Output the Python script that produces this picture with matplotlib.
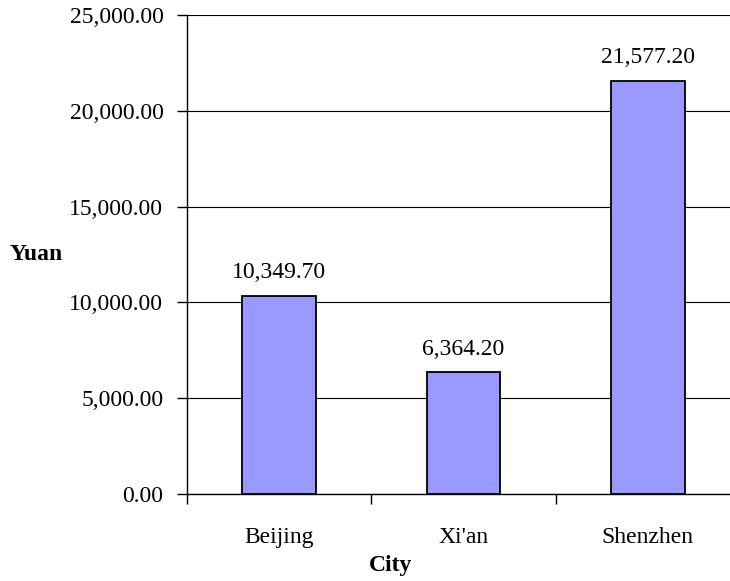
import matplotlib.pyplot as plt
from matplotlib.ticker import FuncFormatter, MultipleLocator

cities = ["Beijing", "Xi'an", "Shenzhen"]
yuan = [10349.70, 6364.20, 21577.20]

plt.rcParams['font.family'] = ['Liberation Serif', 'DejaVu Serif']
FS = 17

fig = plt.figure(figsize=(7.3, 5.81), dpi=100)
# plot area runs slightly past the right edge of the figure
ax = fig.add_axes([187 / 730, 87 / 581, 553 / 730, 479 / 581])

x = range(len(cities))
bars = ax.bar(x, yuan, width=0.4, color='#9999FF', edgecolor='black', linewidth=1.3, zorder=3)
for b, v in zip(bars, yuan):
    ax.text(b.get_x() + b.get_width() / 2, v + 650, f"{v:,.2f}",
            ha='center', va='bottom', fontsize=FS)

ax.set_xlim(-0.5, 2.5)
ax.set_ylim(0, 25000)
ax.yaxis.set_major_locator(MultipleLocator(5000))
ax.yaxis.set_major_formatter(FuncFormatter(lambda v, p: f"{v:,.2f}"))
ax.set_xticks([-0.5, 0.5, 1.5, 2.5])
ax.set_xticklabels([])
ax.set_xticks(list(x), minor=True)
ax.set_xticklabels(cities, minor=True)
ax.tick_params(axis='x', which='minor', length=0, pad=24, labelsize=FS)
ax.tick_params(axis='x', which='major', direction='out', length=7, width=1)
ax.tick_params(axis='y', direction='out', length=7, width=1, labelsize=FS, pad=10)

ax.grid(axis='y', color='black', linewidth=0.8, zorder=0)
for s in ['top', 'right']:
    ax.spines[s].set_visible(False)
ax.spines['left'].set_linewidth(1)
ax.spines['bottom'].set_linewidth(1)

fig.text(36 / 730, 1 - 255 / 581, "Yuan", fontsize=FS, fontweight='bold',
         ha='center', va='center')
fig.text(391 / 730, 1 - 566 / 581, "City", fontsize=FS, fontweight='bold',
         ha='center', va='center')

fig.savefig("out.png", dpi=100)
